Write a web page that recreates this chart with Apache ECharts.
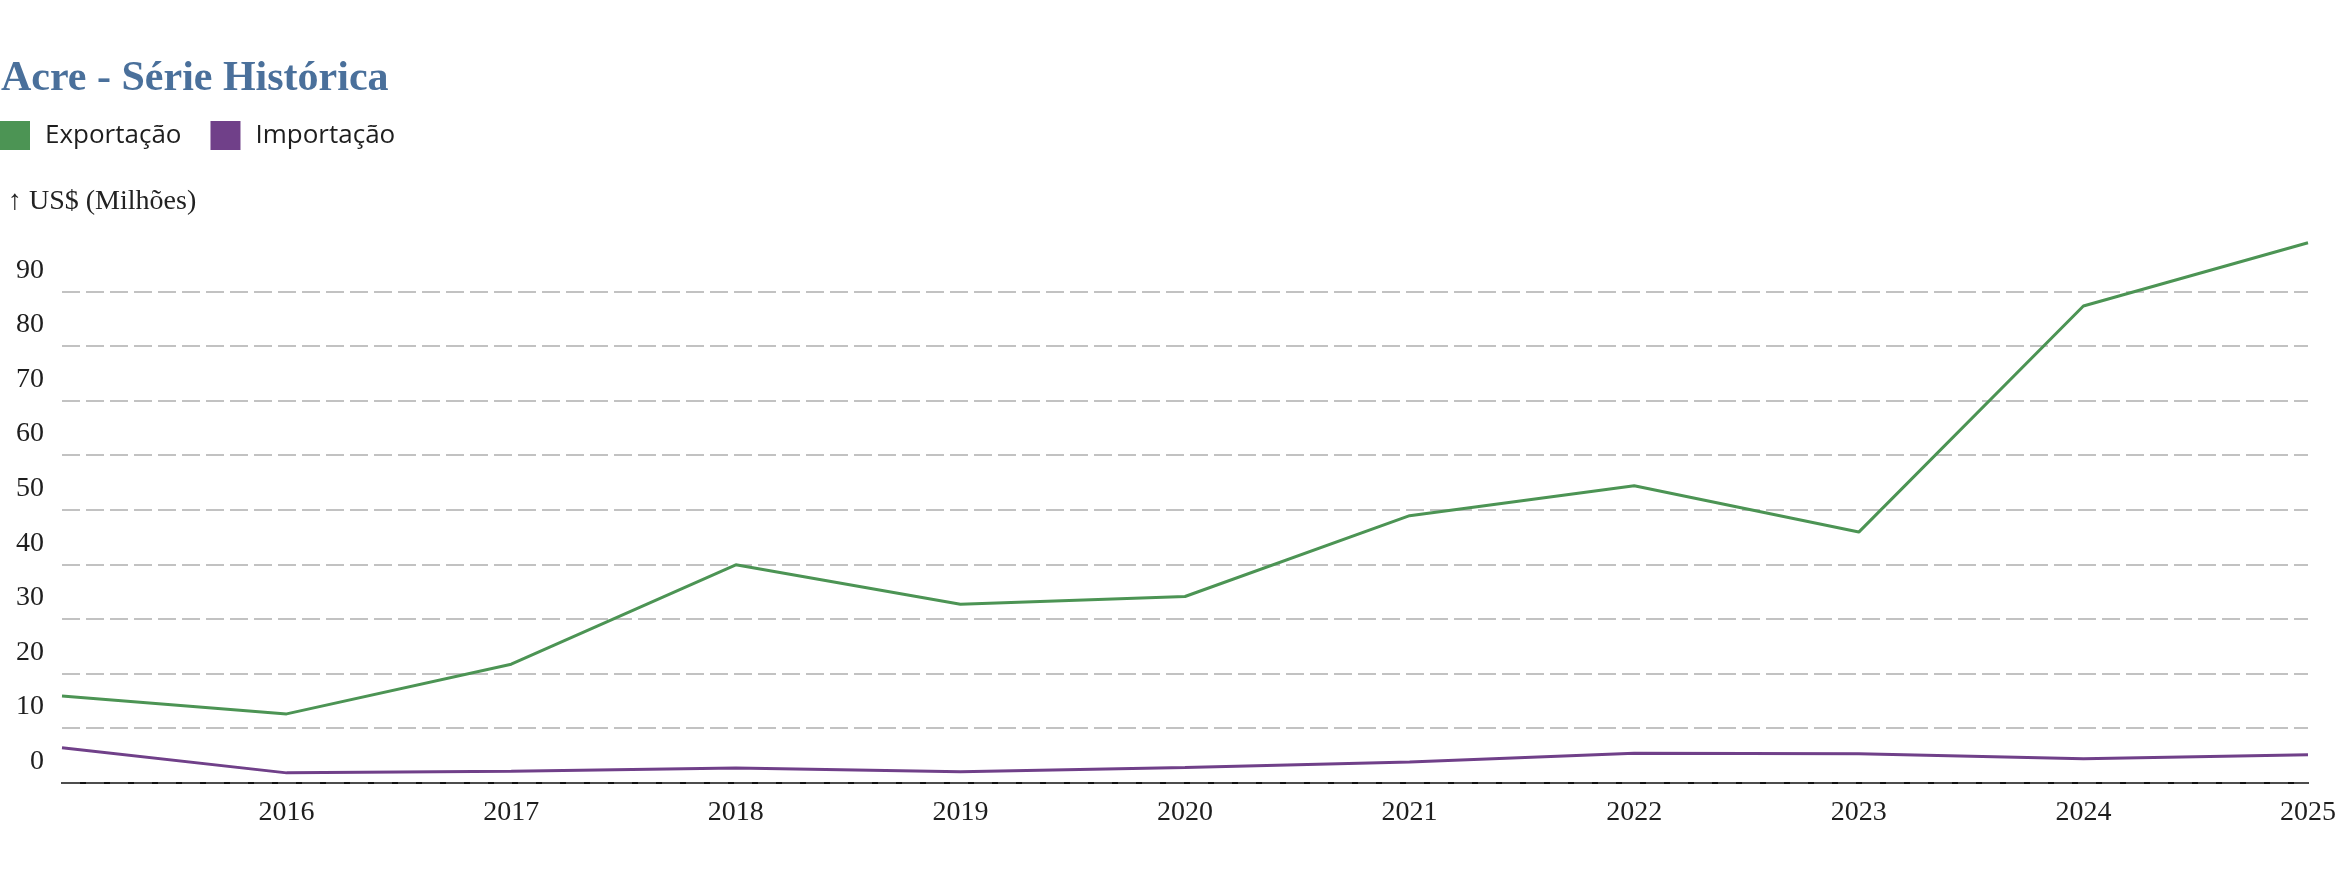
<!DOCTYPE html>
<html>
<head>
<meta charset="utf-8">
<script src="https://cdn.jsdelivr.net/npm/echarts@6/dist/echarts.min.js"></script>
<style>
html,body{margin:0;padding:0;background:#fff;}
#chart{width:2350px;height:894px;}
</style>
</head>
<body>
<div id="chart"></div>
<script>
const years = [2015, 2016, 2017, 2018, 2019, 2020, 2021, 2022, 2023, 2024, 2025];
const exportacao = [15.9, 12.6, 21.7, 39.9, 32.7, 34.1, 48.9, 54.4, 45.9, 87.3, 98.9];
const importacao = [6.4, 1.8, 2.1, 2.7, 2.0, 2.8, 3.8, 5.4, 5.3, 4.4, 5.1];
const seriesNames = ['Exportação', 'Importação'];
const titleText = 'Acre - Série Histórica';
const yAxisTitle = '↑ US$ (Milhões)';

const pairs = vals => years.map((y, i) => [y, vals[i]]);

const chart = echarts.init(document.getElementById('chart'), null, {renderer: 'canvas'});
chart.setOption({
  animation: false,
  backgroundColor: '#ffffff',
  color: ['#4c9454', '#704089'],
  title: [
    {
      text: titleText, left: 1, top: 58, padding: 0,
      textStyle: {fontFamily: 'Liberation Serif', fontWeight: 'bold', fontSize: 42, color: '#4a709b'}
    },
    {
      text: yAxisTitle, left: 8, top: 188, padding: 0,
      textStyle: {fontFamily: 'Liberation Serif', fontWeight: 'normal', fontSize: 28, color: '#222'}
    }
  ],
  legend: {
    left: 0, top: 121, padding: 0,
    icon: 'rect', itemWidth: 30, itemHeight: 29, itemGap: 29,
    data: seriesNames,
    textStyle: {fontFamily: 'Open Sans', fontSize: 26, color: '#1e1e1e', padding: [10, 0, 0, 10]}
  },
  grid: {left: 62, right: 42, top: 236.7, bottom: 111.3, containLabel: false},
  xAxis: {
    type: 'value', min: 2015, max: 2025, interval: 1,
    axisLine: {show: true, lineStyle: {color: '#111', width: 2}},
    axisTick: {show: false},
    splitLine: {show: false},
    axisLabel: {
      showMinLabel: false, margin: 16,
      fontFamily: 'Liberation Serif', fontSize: 28, color: '#1e1e1e',
      formatter: v => String(v)
    }
  },
  yAxis: {
    type: 'value', min: 0, max: 100, interval: 10,
    axisLine: {show: false},
    axisTick: {show: false},
    splitLine: {show: true, showMaxLine: false, lineStyle: {type: [18, 6], color: '#c2c2c2', width: 2}},
    axisLabel: {
      showMaxLabel: false, margin: 18,
      fontFamily: 'Liberation Serif', fontSize: 28, color: '#1e1e1e',
      verticalAlign: 'bottom', lineHeight: 28, padding: [0, 0, 7, 0]
    }
  },
  series: [
    {
      name: seriesNames[0], type: 'line', data: pairs(exportacao), showSymbol: false, lineStyle: {width: 3}, z: 3,
      markLine: {
        silent: true, symbol: 'none', label: {show: false},
        lineStyle: {type: [18, 6], color: '#4d4d4d', width: 2},
        data: [{yAxis: 0}]
      }
    },
    {name: seriesNames[1], type: 'line', data: pairs(importacao), showSymbol: false, lineStyle: {width: 3}, z: 3}
  ]
});
</script>
</body>
</html>
